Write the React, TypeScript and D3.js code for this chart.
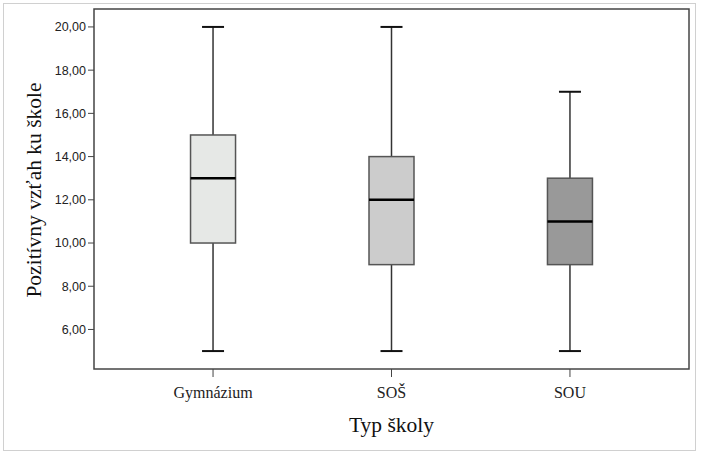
import * as d3 from 'd3';

// box plot summaries
const schools = ['Gymnázium', 'SOŠ', 'SOU'];
const mins = [5, 5, 5];
const q1s = [10, 9, 9];
const medians = [13, 12, 11];
const q3s = [15, 14, 13];
const maxs = [20, 20, 17];
const fills = ['#e6e8e6', '#cccccc', '#999999'];
const yTicks = [6, 8, 10, 12, 14, 16, 18, 20];

const width = 701;
const height = 454;
const plot = { left: 94, right: 689, top: 9, bottom: 369 };

const SERIF = "'Liberation Serif', 'Times New Roman', 'DejaVu Serif', serif";
const SANS = "'Liberation Sans', Arial, sans-serif";

export default function App() {
  const x = d3
    .scalePoint<string>()
    .domain(schools)
    .range([plot.left, plot.right])
    .padding(0.667);
  const y = d3
    .scaleLinear()
    .domain([4.17, 20.83])
    .range([plot.bottom, plot.top]);

  const fmt = (v: number) => d3.format('.2f')(v).replace('.', ',');
  const boxW = 45;
  const capW = 22;

  return (
    <div style={{ position: 'fixed', left: 0, top: 0 }}>
      <svg width={width} height={height}>
        <rect x={0} y={0} width={width} height={height} fill='#fff' />
        <rect x={3.5} y={3.5} width={692} height={447} fill='none' stroke='#d0d0d0' />
        <rect
          x={plot.left}
          y={plot.top}
          width={plot.right - plot.left}
          height={plot.bottom - plot.top}
          fill='#fff'
          stroke='#444'
          strokeWidth={1.5}
        />

        {/* y axis */}
        {yTicks.map((t) => (
          <g key={t}>
            <line x1={plot.left - 6} x2={plot.left} y1={y(t)} y2={y(t)} stroke='#444' />
            <text
              x={plot.left - 8}
              y={y(t)}
              dy='0.35em'
              textAnchor='end'
              style={{ fontFamily: SANS }}
              fontSize={12.5}
              fill='#222'
            >
              {fmt(t)}
            </text>
          </g>
        ))}
        <text
          transform={`translate(41,190) rotate(-90)`}
          textAnchor='middle'
          style={{ fontFamily: SERIF }}
          fontSize={21.5}
          fill='#111'
        >
          Pozitívny vzťah ku škole
        </text>

        {/* x axis */}
        {schools.map((s) => (
          <g key={s}>
            <line x1={x(s)} x2={x(s)} y1={plot.bottom} y2={plot.bottom + 8} stroke='#444' />
            <text
              x={x(s)}
              y={plot.bottom + 29}
              textAnchor='middle'
              style={{ fontFamily: SERIF }}
              fontSize={16}
              fill='#222'
            >
              {s}
            </text>
          </g>
        ))}
        <text
          x={x('SOŠ')}
          y={432}
          textAnchor='middle'
          style={{ fontFamily: SERIF }}
          fontSize={21.5}
          fill='#111'
        >
          Typ školy
        </text>

        {/* boxes */}
        {schools.map((s, i) => {
          const cx = x(s) ?? 0;
          return (
            <g key={s}>
              <line x1={cx} x2={cx} y1={y(maxs[i])} y2={y(q3s[i])} stroke='#333' strokeWidth={1.5} />
              <line x1={cx} x2={cx} y1={y(q1s[i])} y2={y(mins[i])} stroke='#333' strokeWidth={1.5} />
              <line
                x1={cx - capW / 2}
                x2={cx + capW / 2}
                y1={y(maxs[i])}
                y2={y(maxs[i])}
                stroke='#111'
                strokeWidth={2}
              />
              <line
                x1={cx - capW / 2}
                x2={cx + capW / 2}
                y1={y(mins[i])}
                y2={y(mins[i])}
                stroke='#111'
                strokeWidth={2}
              />
              <rect
                x={cx - boxW / 2}
                y={y(q3s[i])}
                width={boxW}
                height={y(q1s[i]) - y(q3s[i])}
                fill={fills[i]}
                stroke='#555'
                strokeWidth={1.5}
              />
              <line
                x1={cx - boxW / 2}
                x2={cx + boxW / 2}
                y1={y(medians[i])}
                y2={y(medians[i])}
                stroke='#000'
                strokeWidth={2.5}
              />
            </g>
          );
        })}
      </svg>
    </div>
  );
}
